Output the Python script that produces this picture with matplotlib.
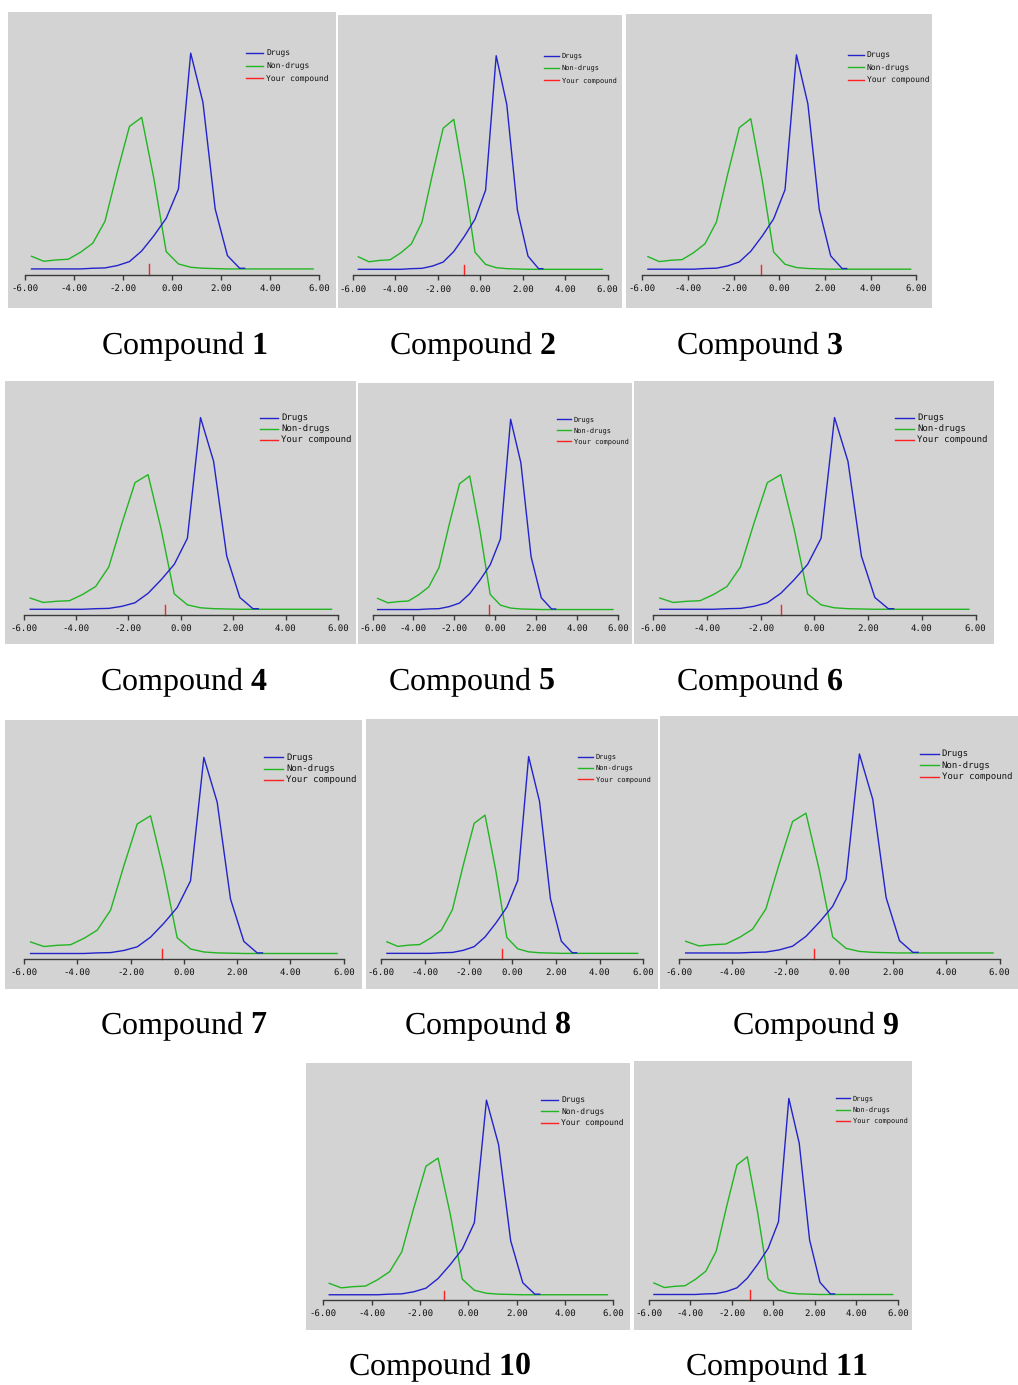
import matplotlib
matplotlib.use('Agg')
import matplotlib.pyplot as plt

plt.rcParams['mathtext.fontset'] = 'custom'
plt.rcParams['mathtext.rm'] = 'Liberation Serif'
plt.rcParams['mathtext.bf'] = 'Liberation Serif:bold'
plt.rcParams['text.hinting'] = 'no_hinting'
plt.rcParams['text.hinting_factor'] = 1

# ---------------- data ----------------
nondrug_x = [-5.75, -5.25, -4.75, -4.25, -3.75, -3.25, -2.75, -2.25, -1.75, -1.25,
             -0.75, -0.25, 0.25, 0.75, 1.25, 1.75, 2.25, 2.75, 3.25, 3.75,
             4.25, 4.75, 5.25, 5.75]
nondrug_y = [38, 23, 27, 29, 50, 77, 143, 290, 428, 455,
             270, 52, 15, 5, 2, 1, 0, 0, 0, 0,
             0, 0, 0, 0]

drug_x = [-5.75, -5.25, -4.75, -4.25, -3.75, -3.25, -2.75, -2.25, -1.75, -1.25,
          -0.75, -0.25, 0.25, 0.75, 1.25, 1.75, 2.25, 2.75, 2.95]
drug_y = [0, 0, 0, 0, 0, 2, 3, 10, 22, 54,
          100, 152, 240, 648, 500, 180, 40, 2, 2]

compound_names = ['1', '2', '3', '4', '5', '6', '7', '8', '9', '10', '11']
compound_values = [-0.97, -0.77, -0.81, -0.60, -0.33, -1.23, -0.83, -0.49, -0.94, -1.02, -1.10]

x_ticks = [-6, -4, -2, 0, 2, 4, 6]
x_tick_labels = ['-6.00', '-4.00', '-2.00', '0.00', '2.00', '4.00', '6.00']
legend_labels = ['Drugs', 'Non-drugs', 'Your compound']

# ---------------- layout / style ----------------
W, H = 1018, 1385
# panel boxes in pixels: left, top, right, bottom
panels = [
    (8, 12, 336, 308), (338, 15, 622, 308), (626, 14, 932, 308),
    (5, 381, 356, 644), (358, 383, 632, 644), (634, 381, 994, 644),
    (5, 720, 362, 989), (366, 719, 658, 989), (660, 716, 1018, 989),
    (306, 1063, 630, 1330), (634, 1061, 912, 1330),
]
captions = [
    (184, 354), (472, 354), (760, 354),
    (184, 690), (472, 690), (760, 690),
    (184, 1034), (488, 1034), (816, 1034),
    (440, 1375), (776, 1375),
]

BG = '#d3d3d3'
BLUE = '#2323cc'
GREEN = '#22b522'
RED = '#ff2020'
AXC = '#3a3a3a'

fig = plt.figure(figsize=(W / 100, H / 100), dpi=100)
fig.patch.set_facecolor('white')

y_unit = 648 / (0.861 - 0.132)
ylo = -(0.132 - 0.111) * y_unit
yhi = (0.95 - 0.132) * y_unit

for (l, t, r, b), name, val in zip(panels, compound_names, compound_values):
    pw, ph = r - l, b - t
    bg = fig.add_axes([l / W, 1 - b / H, pw / W, ph / H])
    bg.set_facecolor(BG)
    bg.set_xticks([])
    bg.set_yticks([])
    for s in bg.spines.values():
        s.set_visible(False)
    bg.set_xlim(0, 1)
    bg.set_ylim(0, 1)

    scale = pw / 328.0
    # legend (manual)
    rows = [0.139, 0.181, 0.223]
    for lab, col, ry in zip(legend_labels, [BLUE, GREEN, RED], rows):
        bg.plot([0.726, 0.778], [1 - ry, 1 - ry], color=col, lw=1.0)
        bg.text(0.787, 1 - ry, lab, fontsize=6.0 * scale, family='DejaVu Sans Mono',
                va='center', ha='left', color='#111111')

    il = l + 0.053 * pw
    ir = l + 0.949 * pw
    ib = b - 0.111 * ph
    it = t + 0.05 * ph
    ax = fig.add_axes([il / W, 1 - ib / H, (ir - il) / W, (ib - it) / H])
    ax.patch.set_alpha(0)
    ax.set_xlim(-6, 6)
    ax.set_ylim(ylo, yhi)
    for s in ['top', 'left', 'right']:
        ax.spines[s].set_visible(False)
    ax.spines['bottom'].set_color(AXC)
    ax.spines['bottom'].set_linewidth(1.0)
    ax.set_yticks([])
    ax.set_xticks(x_ticks)
    ax.set_xticklabels(x_tick_labels, family='DejaVu Sans Mono', fontsize=6.3,
                       color='#111111')
    ax.tick_params(axis='x', direction='out', length=3.5, width=1.0, color=AXC, pad=3.0)

    ax.plot(nondrug_x, nondrug_y, color=GREEN, lw=1.0)
    ax.plot(drug_x, drug_y, color=BLUE, lw=1.0)
    ax.plot([val, val], [ylo, 14], color=RED, lw=1.0, clip_on=False)

for (cx, by), name in zip(captions, compound_names):
    fig.text(cx / W, 1 - by / H, r'Compound $\mathbf{' + name + '}$', fontsize=23,
             family='Liberation Serif', ha='center', va='baseline')

fig.savefig('out.png', dpi=100, facecolor='white')
